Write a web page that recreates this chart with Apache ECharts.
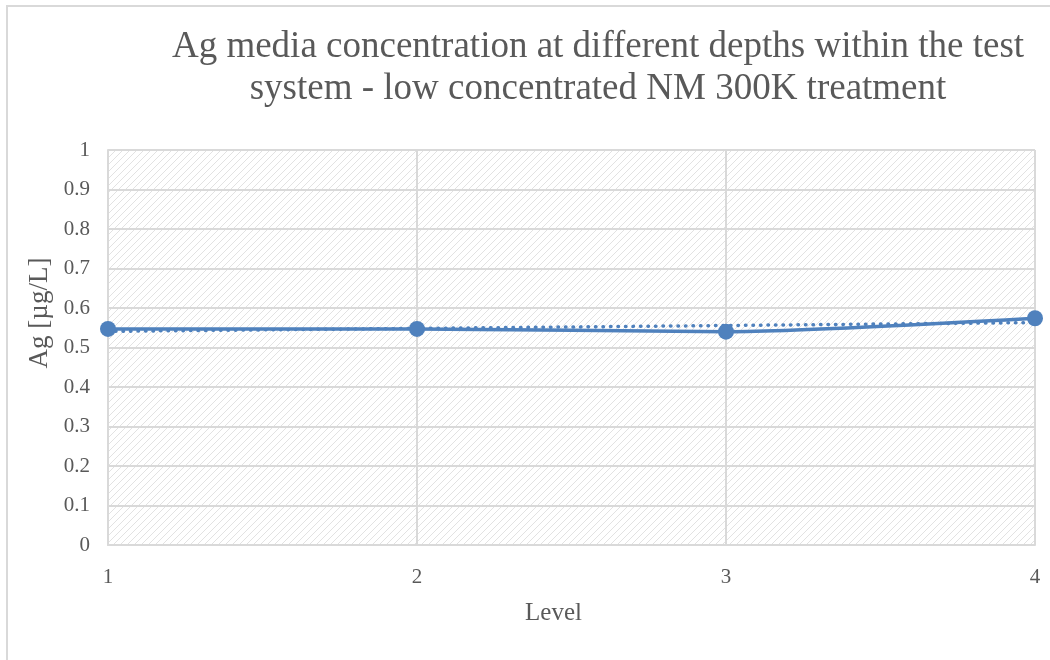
<!DOCTYPE html>
<html>
<head>
<meta charset="utf-8">
<script src="https://cdn.jsdelivr.net/npm/echarts@6/dist/echarts.min.js"></script>
<style>
  html, body { margin: 0; padding: 0; background: #fff; }
  #chart { width: 1050px; height: 660px; }
</style>
</head>
<body>
<div id="chart"></div>
<script>
const levels = [1, 2, 3, 4];
const agValues = [0.547, 0.547, 0.540, 0.574];
const yTicks = [0, 0.1, 0.2, 0.3, 0.4, 0.5, 0.6, 0.7, 0.8, 0.9, 1];

const titleText = 'Ag media concentration at different depths within the test\nsystem - low concentrated NM 300K treatment';
const blue = '#4f81bd';
const textGrey = '#595959';
const serif = '"Liberation Serif", "Times New Roman", serif';

// linear trendline, like Excel does it
function linearTrend(xs, ys) {
    const n = xs.length;
    const mx = xs.reduce((a, b) => a + b, 0) / n;
    const my = ys.reduce((a, b) => a + b, 0) / n;
    let sxy = 0, sxx = 0;
    xs.forEach((x, i) => { sxy += (x - mx) * (ys[i] - my); sxx += (x - mx) * (x - mx); });
    const slope = sxy / sxx;
    return xs.map(x => [x, my + slope * (x - mx)]);
}

// diagonal hatch for the plot area
function hatchPattern() {
    const c = document.createElement('canvas');
    const s = 7;
    c.width = s; c.height = s;
    const ctx = c.getContext('2d');
    ctx.fillStyle = '#ffffff';
    ctx.fillRect(0, 0, s, s);
    ctx.strokeStyle = '#e2e2e2';
    ctx.lineWidth = 1;
    ctx.beginPath();
    ctx.moveTo(0, s); ctx.lineTo(s, 0);
    ctx.moveTo(-1, 1); ctx.lineTo(1, -1);
    ctx.moveTo(s - 1, s + 1); ctx.lineTo(s + 1, s - 1);
    ctx.stroke();
    return c;
}

const chart = echarts.init(document.getElementById('chart'));

const option = {
    backgroundColor: '#ffffff',
    animation: false,
    title: {
        text: titleText,
        left: 593,
        top: 21,
        textAlign: 'center',
        textStyle: {
            fontFamily: serif, fontSize: 37, fontWeight: 'normal',
            color: textGrey, lineHeight: 42, align: 'center'
        }
    },
    graphic: [
        {
            type: 'rect',
            shape: { x: 7, y: 6, width: 1100, height: 720 },
            style: { fill: 'none', stroke: '#d9d9d9', lineWidth: 2 },
            silent: true
        },
        {
            type: 'text',
            x: 40, y: 313,
            rotation: Math.PI / 2,
            style: {
                text: 'Ag [µg/L]',
                font: '27px ' + serif,
                fill: textGrey,
                textAlign: 'center',
                textVerticalAlign: 'middle'
            }
        }
    ],
    grid: {
        left: 108, right: 15, top: 150, bottom: 115,
        show: true,
        borderWidth: 0,
        backgroundColor: { image: hatchPattern(), repeat: 'repeat' }
    },
    xAxis: {
        type: 'value',
        min: 1, max: 4, interval: 1,
        name: 'Level',
        nameLocation: 'middle',
        nameGap: 56,
        nameTextStyle: { fontFamily: serif, fontSize: 25, color: textGrey, padding: [0, 36, 0, 0] },
        axisLine: { show: true, lineStyle: { color: '#d9d9d9', width: 2 } },
        axisTick: { show: false },
        axisLabel: { fontFamily: serif, fontSize: 21, color: textGrey, margin: 22 },
        splitLine: { show: true, lineStyle: { color: '#d9d9d9', width: 2 } }
    },
    yAxis: {
        type: 'value',
        min: yTicks[0], max: yTicks[yTicks.length - 1], interval: 0.1,
        axisLine: { show: true, lineStyle: { color: '#d9d9d9', width: 2 } },
        axisTick: { show: false },
        axisLabel: { fontFamily: serif, fontSize: 21, color: textGrey, margin: 18 },
        splitLine: { show: true, lineStyle: { color: '#d9d9d9', width: 2 } }
    },
    series: [
        {
            type: 'line',
            data: levels.map((x, i) => [x, agValues[i]]),
            smooth: 0.25,
            symbol: 'circle',
            symbolSize: 16,
            lineStyle: { color: blue, width: 3.5 },
            itemStyle: { color: blue },
            z: 3
        },
        {
            type: 'line',
            data: linearTrend(levels, agValues),
            symbol: 'none',
            lineStyle: { color: blue, width: 3.5, type: [0.5, 7], cap: 'round' },
            z: 2
        }
    ]
};

chart.setOption(option);
</script>
</body>
</html>
